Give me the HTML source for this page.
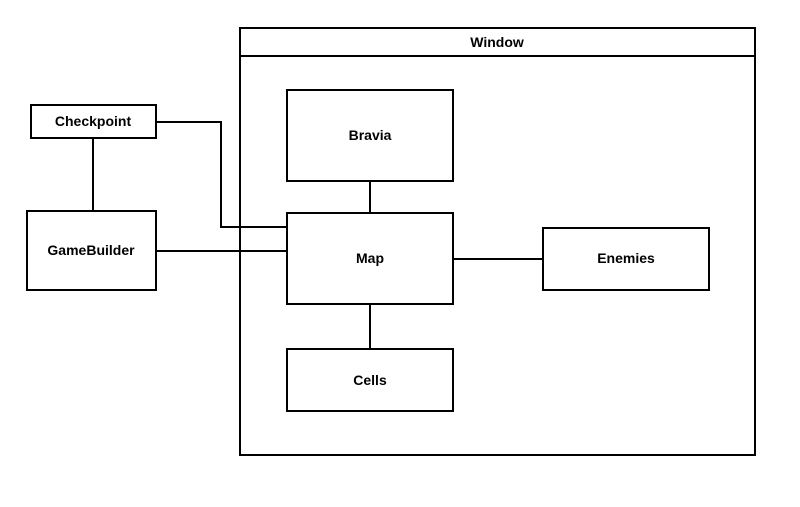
<!DOCTYPE html>
<html><head><style>
body{margin:0;background:#fff;}
svg text{font-family:"Liberation Sans",sans-serif;font-weight:bold;font-size:14px;text-anchor:middle;dominant-baseline:central;fill:#000}
</style></head><body>
<svg width="800" height="502" xmlns="http://www.w3.org/2000/svg">
<g fill="none" stroke="#000" stroke-width="2">
<rect x="240" y="28" width="515" height="427" fill="#fff"/>
<line x1="240" y1="56" x2="755" y2="56"/>
<polyline points="156,122 221,122 221,227 287,227"/>
<line x1="156" y1="251" x2="287" y2="251"/>
<line x1="93" y1="138" x2="93" y2="211"/>
<line x1="370" y1="181" x2="370" y2="213"/>
<line x1="370" y1="304" x2="370" y2="349"/>
<line x1="453" y1="259" x2="543" y2="259"/>
<rect x="31" y="105" width="125" height="33" fill="#fff"/>
<rect x="27" y="211" width="129" height="79" fill="#fff"/>
<rect x="287" y="90" width="166" height="91" fill="#fff"/>
<rect x="287" y="213" width="166" height="91" fill="#fff"/>
<rect x="287" y="349" width="166" height="62" fill="#fff"/>
<rect x="543" y="228" width="166" height="62" fill="#fff"/>
</g>
<text x="497" y="42">Window</text>
<text x="93" y="121">Checkpoint</text>
<text x="91" y="250">GameBuilder</text>
<text x="370" y="135">Bravia</text>
<text x="370" y="258">Map</text>
<text x="370" y="380">Cells</text>
<text x="626" y="258">Enemies</text>
</svg>
</body></html>
